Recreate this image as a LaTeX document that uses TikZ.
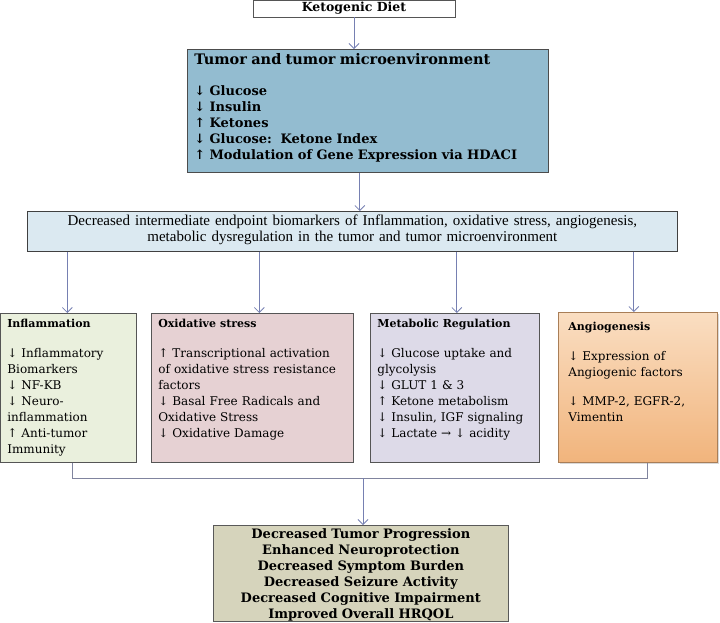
\documentclass[tikz,border=0pt]{standalone}
\usepackage{fontspec}
\setmainfont{DejaVu Serif}
\newfontfamily\midfont{Liberation Serif}
\usetikzlibrary{arrows.meta,shadows}

\definecolor{boxline}{RGB}{85,85,85}
\definecolor{linkblue}{RGB}{118,128,178}
\definecolor{joingray}{RGB}{128,132,158}
\definecolor{tumorblue}{RGB}{147,188,208}
\definecolor{midblue}{RGB}{219,233,241}
\definecolor{inflgreen}{RGB}{234,240,221}
\definecolor{oxidpink}{RGB}{230,209,211}
\definecolor{metablue}{RGB}{221,218,232}
\definecolor{angiotop}{RGB}{250,222,194}
\definecolor{angiobot}{RGB}{241,180,124}
\definecolor{outkhaki}{RGB}{214,212,188}

\begin{document}
\begin{tikzpicture}[x=1pt,y=-1pt,
    box/.style={draw=boxline, line width=0.7pt, anchor=north west, align=left,
        inner xsep=7pt, inner ysep=5pt, text height=9pt},
    sidetext/.style={font=\fontsize{12}{16}\selectfont},
    link/.style={draw=linkblue, line width=0.8pt, -{Straight Barb[length=5pt,width=10pt]}},
    joinline/.style={draw=joingray, line width=0.8pt}]

\useasboundingbox (0,0) rectangle (720,622);

% top of the chain
\node[draw=boxline, line width=0.7pt, fill=white, minimum width=202pt, minimum height=17pt,
    inner sep=0pt, font=\bfseries\fontsize{12.5}{14}\selectfont] (diet) at (354,8.5) {Ketogenic Diet};

\node[box, fill=tumorblue, draw=black!70, text width=347pt, text height=10pt, text depth=103pt,
    font=\bfseries\fontsize{13}{16}\selectfont] (tumor) at (187,49)
    {{\fontsize{14.5}{16}\selectfont Tumor and tumor microenvironment}\\[15pt]
     ↓ Glucose\\
     ↓ Insulin\\
     ↑ Ketones\\
     ↓ Glucose:\ \ Ketone Index\\
     ↑ Modulation of Gene Expression via HDACI};

\node[box, fill=midblue, draw=black!75, text width=636pt, align=center, inner ysep=4pt,
    text height=10pt, text depth=22pt, font=\midfont\fontsize{15}{16}\selectfont] (mid) at (27,211)
    {Decreased intermediate endpoint biomarkers of Inflammation, oxidative stress, angiogenesis,\\
     metabolic dysregulation in the tumor and tumor microenvironment};

% the four panels
\node[box, sidetext, fill=inflgreen, text width=122pt, text depth=130pt] (infl) at (0,313)
    {\textbf{\fontsize{11}{16}\selectfont Inflammation}\\[14pt]
     ↓ Inflammatory\\
     Biomarkers\\
     ↓ NF-KB\\
     ↓ Neuro-\\
     inflammation\\
     ↑ Anti-tumor\\
     Immunity};

\node[box, sidetext, fill=oxidpink, text width=188pt, text depth=130pt] (oxid) at (151,313)
    {\textbf{\fontsize{11}{16}\selectfont Oxidative stress}\\[14pt]
     ↑ Transcriptional activation\\
     of oxidative stress resistance\\
     factors\\
     ↓ Basal Free Radicals and\\
     Oxidative Stress\\
     ↓ Oxidative Damage};

\node[box, sidetext, fill=metablue, text width=155pt, text depth=130pt] (metab) at (370,313)
    {\textbf{\fontsize{11}{16}\selectfont Metabolic Regulation}\\[14pt]
     ↓ Glucose uptake and\\
     glycolysis\\
     ↓ GLUT 1 \& 3\\
     ↑ Ketone metabolism\\
     ↓ Insulin, IGF signaling\\
     ↓ Lactate → ↓ acidity};

\node[box, sidetext, draw=angiobot!70!black, top color=angiotop, bottom color=angiobot,
    drop shadow={shadow xshift=2pt, shadow yshift=-2pt, opacity=0.3},
    inner xsep=10pt, inner ysep=9pt, text width=139pt, text depth=123pt] (angio) at (558,312)
    {\textbf{\fontsize{11}{16}\selectfont Angiogenesis}\\[14pt]
     ↓ Expression of\\
     Angiogenic factors\\[13pt]
     ↓ MMP-2, EGFR-2,\\
     Vimentin};

% outcomes
\node[box, fill=outkhaki, draw=black!65, text width=281pt, align=center, inner ysep=2pt,
    text height=11pt, text depth=81pt, font=\bfseries\fontsize{13}{16}\selectfont] (outcome) at (213,525)
    {Decreased Tumor Progression\\
     Enhanced Neuroprotection\\
     Decreased Symptom Burden\\
     Decreased Seizure Activity\\
     Decreased Cognitive Impairment\\
     Improved Overall HRQOL};

% arrows
\draw[link] (diet.south) -- (diet.south |- tumor.north);
\draw[link] ([xshift=-8]tumor.south) -- ([xshift=-8]tumor.south |- mid.north);
\foreach \b/\dx in {infl/-1,oxid/7,metab/2,angio/-4}
    \draw[link] ([xshift=\dx]\b.north |- mid.south) -- ([xshift=\dx]\b.north);

\coordinate (join) at (363,478);
\draw[joinline] ([xshift=4]infl.south) |- (join) -| ([xshift=10]angio.south);
\draw[link] (join) -- (join |- outcome.north);
\end{tikzpicture}
\end{document}
